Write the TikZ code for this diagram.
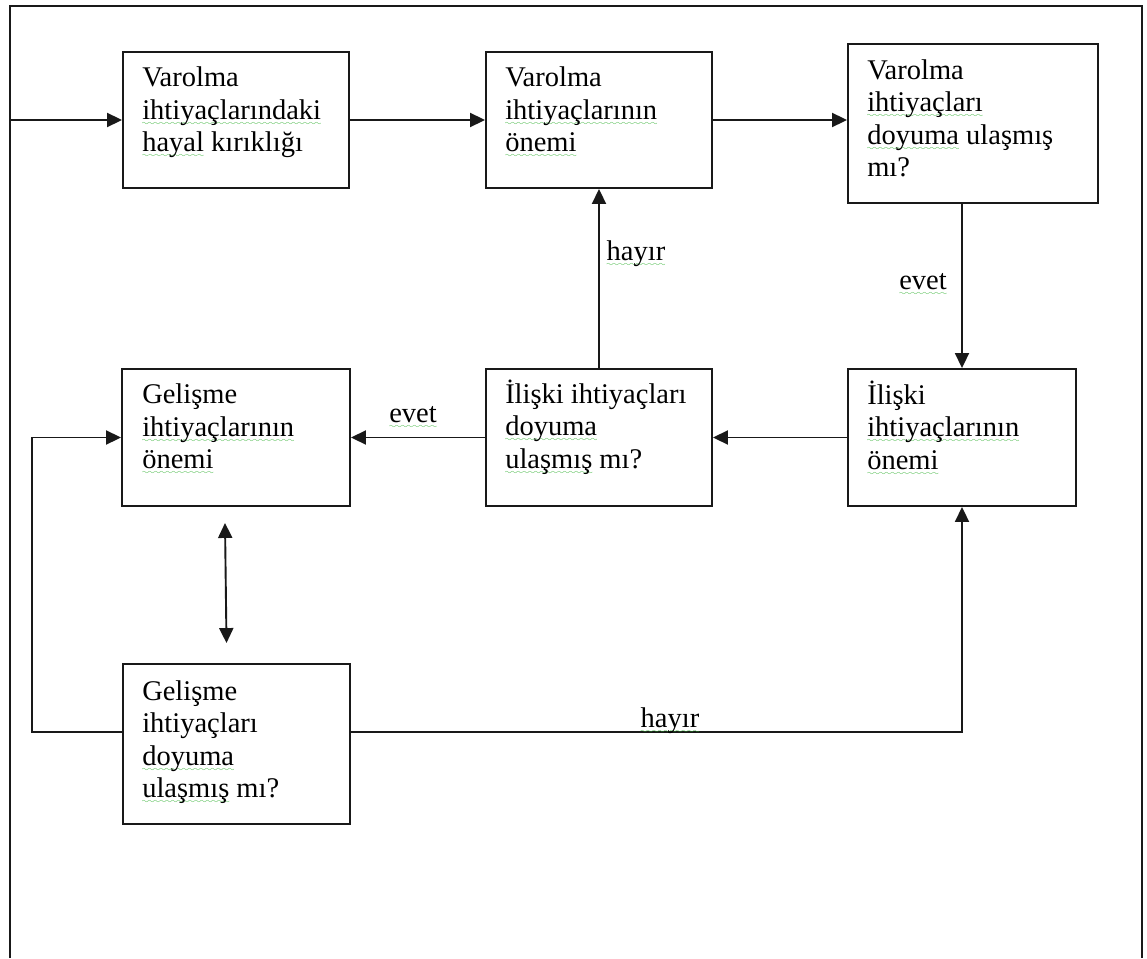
\documentclass[tikz,border=0pt]{standalone}
\usepackage{fontspec}
\setmainfont{Liberation Serif}
\usepackage{xcolor}
\usetikzlibrary{arrows.meta,calc}
\definecolor{spellgreen}{RGB}{30,170,30}
\definecolor{inkgray}{RGB}{25,25,25}
% green wavy mark under a word
\font\spellwavefont=lasy8
\newcommand\spell[1]{\leavevmode\setbox0=\hbox{#1}%
  \rlap{\color{spellgreen}\lower6pt\hbox to\wd0{\xleaders\hbox{\spellwavefont\char58}\hfil}}\box0\relax}
\begin{document}
\begin{tikzpicture}[x=1pt,y=-1pt,
  box/.style={draw=inkgray,line width=1.9pt,inner sep=0pt,fill=white},
  txt/.style={inner sep=0pt,anchor=base west,font=\fontsize{28.5}{32.5}\selectfont},
  lbl/.style={inner sep=0pt,anchor=base,font=\fontsize{28.5}{32.5}\selectfont},
  conn/.style={draw=inkgray,line width=1.9pt},
  arr/.style={conn,-{Triangle[length=15pt,width=14pt]}},
  dblarr/.style={conn,{Triangle[length=15pt,width=14pt]}-{Triangle[length=15pt,width=14pt]}},
]
\useasboundingbox (0,0) rectangle (1147,958);

% page frame, open at the bottom
\draw[conn] (10,958) -- (10,6) -- (1142,6) -- (1142,958);

% boxes
\node[box,minimum width=226pt,minimum height=136pt] (b1) at (236,120) {};
\node[box,minimum width=226pt,minimum height=136pt] (b2) at (599,120) {};
\node[box,minimum width=250pt,minimum height=159pt] (b3) at (973,123.5) {};
\node[box,minimum width=228pt,minimum height=137pt] (b4) at (962,437.5) {};
\node[box,minimum width=226pt,minimum height=137pt] (b5) at (599,437.5) {};
\node[box,minimum width=228pt,minimum height=137pt] (b6) at (236,437.5) {};
\node[box,minimum width=227pt,minimum height=160pt] (b7) at (236.5,744) {};

% box texts
\node[txt] (t1) at ([shift={(20,35.5)}]b1.north west)
  {\parbox[t]{210pt}{\raggedright Varolma\\\spell{ihtiyaçlarındaki}\\\spell{hayal} kırıklığı}};
\node[txt] (t2) at ([shift={(20,35.5)}]b2.north west)
  {\parbox[t]{210pt}{\raggedright Varolma\\\spell{ihtiyaçlarının}\\\spell{önemi}}};
\node[txt] (t3) at ([shift={(20,36)}]b3.north west)
  {\parbox[t]{225pt}{\raggedright Varolma\\\spell{ihtiyaçları}\\\spell{doyuma} ulaşmış\\mı?}};
\node[txt] (t4) at ([shift={(20,36)}]b4.north west)
  {\parbox[t]{210pt}{\raggedright İlişki\\\spell{ihtiyaçlarının}\\\spell{önemi}}};
\node[txt] (t5) at ([shift={(20,35)}]b5.north west)
  {\parbox[t]{210pt}{\raggedright İlişki ihtiyaçları\\\spell{doyuma}\\\spell{ulaşmış} mı?}};
\node[txt] (t6) at ([shift={(21,35.5)}]b6.north west)
  {\parbox[t]{210pt}{\raggedright Gelişme\\\spell{ihtiyaçlarının}\\\spell{önemi}}};
\node[txt] (t7) at ([shift={(20,37)}]b7.north west)
  {\parbox[t]{210pt}{\raggedright Gelişme\\ihtiyaçları\\\spell{doyuma}\\\spell{ulaşmış} mı?}};

% connectors
\coordinate (in) at (10,120);
\draw[arr] (in) -- (b1.west);
\draw[arr] (b1.east) -- (b2.west);
\draw[arr] (b2.east) -- (b2.east -| b3.west);
\draw[arr] (b4.north |- b3.south) -- (b4.north);
\draw[arr] (b4.west) -- (b5.east);
\draw[arr] (b5.west) -- (b6.east);
\draw[arr] (b5.north) -- (b2.south);
\draw[dblarr] ([shift={(-11,16)}]b6.south) -- ([shift={(-10,-20)}]b7.north);
\draw[arr] ([shift={(0,-12)}]b7.west) -- ++(-90,0) |- (b6.west);
\draw[arr] ([shift={(0,-12)}]b7.east) -| (b4.south);

% connector labels
\node[lbl] (l1) at (923,289) {\spell{evet}};
\node[lbl] (l2) at (636,260) {\spell{hayır}};
\node[lbl] (l3) at (413,422) {\spell{evet}};
\node[lbl] (l4) at (670,727) {\spell{hayır}};
\end{tikzpicture}
\end{document}
